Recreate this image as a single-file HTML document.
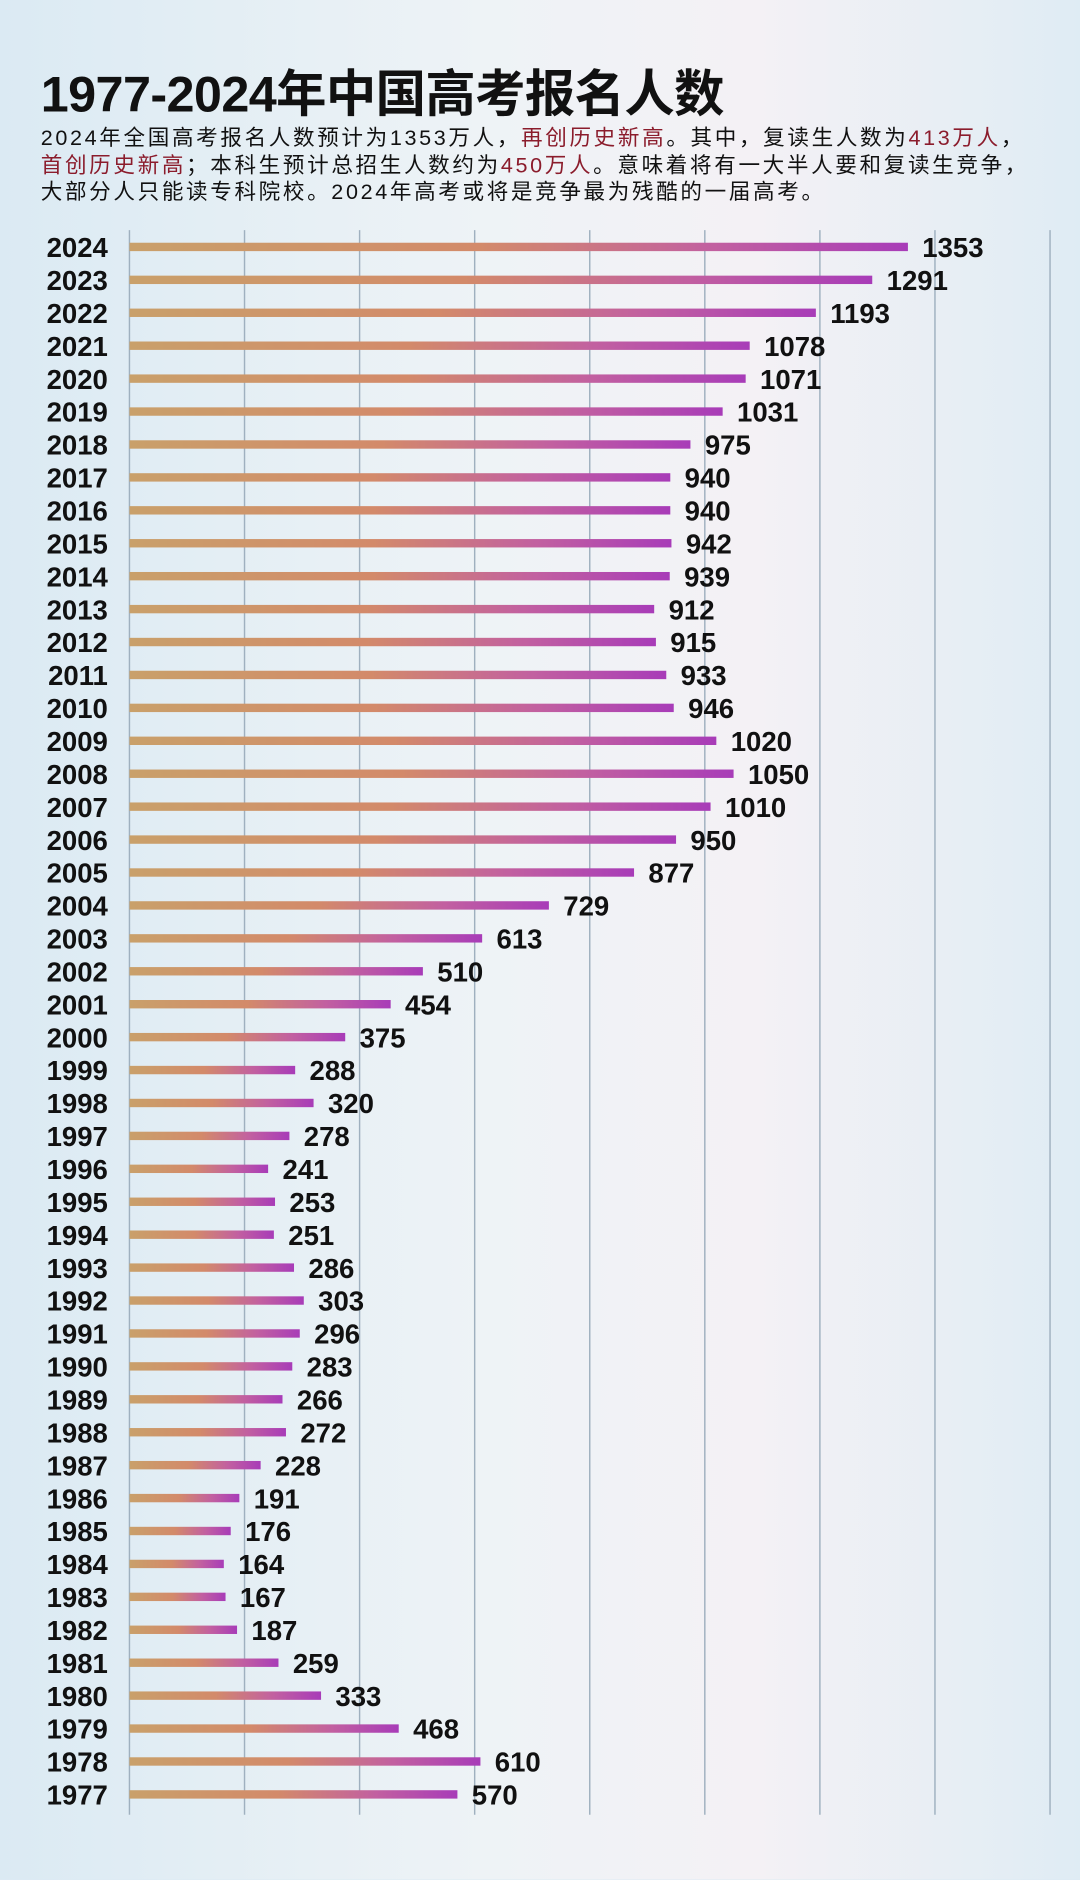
<!DOCTYPE html>
<html><head><meta charset="utf-8"><style>
html,body{margin:0;padding:0;width:1080px;height:1880px;overflow:hidden;background:#dcebf4}
#wrap{position:absolute;left:0;top:0;width:901px;height:1568px;transform:scale(1.19867);transform-origin:0 0;
background:linear-gradient(90deg,#dbeaf3 0%,#eef3f6 45%,#f4f1f5 70%,#dfecf4 100%);
font-family:"Liberation Sans","Noto Sans CJK SC",sans-serif}
h1{position:absolute;left:34px;top:45px;margin:0;font-size:42px;font-weight:bold;color:#111;letter-spacing:-0.5px;font-family:"Liberation Sans","Noto Sans CJK SC",sans-serif}
#sub{position:absolute;left:34px;top:104px;width:880px;font-size:18px;letter-spacing:2.2px;line-height:22.5px;color:#111;margin:0;white-space:nowrap}
.r{color:#8b1c2c}
svg{position:absolute;left:0;top:0}
</style></head><body>
<div id="wrap">
<h1>1977-2024年中国高考报名人数</h1>
<p id="sub">2024年全国高考报名人数预计为1353万人，<span class="r">再创历史新高</span>。其中，复读生人数为<span class="r">413万人</span>，<br><span class="r">首创历史新高</span>；本科生预计总招生人数约为<span class="r">450万人</span>。意味着将有一大半人要和复读生竞争，<br>大部分人只能读专科院校。2024年高考或将是竞争最为残酷的一届高考。</p>
<svg id="chart" width="901" height="1568">
<defs><linearGradient id="bg" x1="0" x2="1" y1="0" y2="0">
<stop offset="0" stop-color="#c9a06a"/><stop offset="0.45" stop-color="#d38a6a"/><stop offset="0.75" stop-color="#c260a0"/><stop offset="1" stop-color="#a83cb8"/></linearGradient></defs>
</svg>
</div>
<script>
const years=[2024,2023,2022,2021,2020,2019,2018,2017,2016,2015,2014,2013,2012,2011,2010,2009,2008,2007,2006,2005,2004,2003,2002,2001,2000,1999,1998,1997,1996,1995,1994,1993,1992,1991,1990,1989,1988,1987,1986,1985,1984,1983,1982,1981,1980,1979,1978,1977];
const values=[1353,1291,1193,1078,1071,1031,975,940,940,942,939,912,915,933,946,1020,1050,1010,950,877,729,613,510,454,375,288,320,278,241,253,251,286,303,296,283,266,272,228,191,176,164,167,187,259,333,468,610,570];
const gridTicks=[0,200,400,600,800,1000,1200,1400,1600];
const NS='http://www.w3.org/2000/svg';
const svg=document.getElementById('chart');
const x0=108,pxPer=0.48,yTop=206,rowH=(1497-206)/47;
const xs=v=>x0+v*pxPer;
const ys=i=>yTop+i*rowH;
function mk(t,a){const e=document.createElementNS(NS,t);for(const k in a)e.setAttribute(k,a[k]);svg.appendChild(e);return e;}
gridTicks.forEach(t=>{
  const l=mk('line',{x1:xs(t),x2:xs(t),y1:192,y2:1514,stroke:'#9fb0bf','stroke-width':1.2});
  
  
});
years.forEach((yr,i)=>{
  const y=ys(i);
  const lab=mk('text',{x:90,y:y+8.5,'text-anchor':'end','font-size':23,'font-weight':'bold',fill:'#111','font-family':'Liberation Sans, sans-serif'});
  lab.textContent=yr;
  
  
  const b=mk('rect',{x:x0,y:y-3.5,width:values[i]*pxPer,height:7,fill:'url(#bg)'});
  
  
  const v=mk('text',{x:xs(values[i])+12,y:y+8.5,'font-size':23,'font-weight':'bold',fill:'#111','font-family':'Liberation Sans, sans-serif'});
  v.textContent=values[i];
  
  
});
</script>
</body></html>
